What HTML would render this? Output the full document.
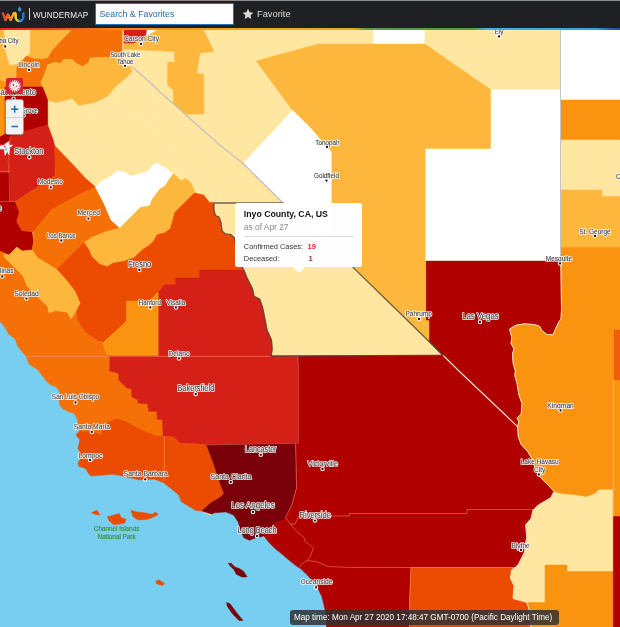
<!DOCTYPE html>
<html><head><meta charset="utf-8"><title>WunderMap</title>
<style>
html,body{margin:0;padding:0;background:#fff;}
#pop,#bar,#wm,#sb,#fav{will-change:transform,opacity;opacity:0.999}
body{width:620px;height:627px;overflow:hidden;position:relative;font-family:"Liberation Sans",sans-serif;}
#hdr{position:absolute;left:0;top:0;width:620px;height:27.8px;background:#1f2023;border-top:1px solid #8a8a8c;box-sizing:border-box;z-index:5}
#rb{position:absolute;left:0;top:27.8px;width:620px;height:2.1px;z-index:5;background:linear-gradient(90deg,#e4262c 0%,#e9452a 8%,#f58220 18%,#f7a21f 40%,#e8a82a 57%,#5a9a48 59%,#55994a 76%,#39b4e6 79%,#2aa9e0 96%,#1f5fb0 98.5%,#1f4fa0 100%)}
#wm{position:absolute;left:33px;top:9.5px;color:#f0f0f0;font-size:8.2px;letter-spacing:0.08px;line-height:11px;z-index:6}
#dv{position:absolute;left:29px;top:8px;width:1px;height:12px;background:#cfcfcf;z-index:6}
#sb{position:absolute;left:95px;top:3px;width:139px;height:22px;box-sizing:border-box;border:1.5px solid #1b78bd;background:#fff;z-index:6;border-radius:1px}
#sb span{position:absolute;left:3.5px;top:4.9px;font-size:8.8px;color:#1d6fae;line-height:11px;white-space:nowrap}
#fav{position:absolute;left:257px;top:8.9px;font-size:9.3px;color:#dcdcdc;line-height:11px;z-index:6}
#pop{position:absolute;left:234.8px;top:203px;width:127px;height:64px;background:#fff;border-radius:3px;z-index:4}
#pop .t{position:absolute;left:8.8px;top:6.2px;font-weight:bold;font-size:8.72px;color:#111;white-space:nowrap;line-height:11px}
#pop .s{position:absolute;left:8.8px;top:18.6px;font-size:8.4px;color:#8a8a8a;white-space:nowrap;line-height:10px}
#pop .hr{position:absolute;left:8.6px;top:32.5px;width:110px;height:1px;background:#dcdcdc}
#pop .r{position:absolute;left:8.8px;font-size:7.42px;color:#333;white-space:nowrap;line-height:9px}
#pop b{position:absolute;font-size:7.6px;line-height:9px}
#tip{position:absolute;left:292.7px;top:266.5px;width:0;height:0;border-left:6px solid transparent;border-right:6px solid transparent;border-top:6px solid #fff;z-index:4}
#cv{position:absolute;left:5.5px;top:77.5px;width:17.5px;height:16px;background:#d9232e;border-radius:2px;z-index:4}
#zm{position:absolute;left:5.5px;top:99.5px;width:17.5px;height:34.5px;background:#f3f3f3;border-radius:2px;z-index:4;box-shadow:0 0 0 0.7px #bdbdbd,0 1px 2px rgba(0,0,0,0.3)}
#zm .d{position:absolute;left:0;top:17px;width:100%;height:1px;background:#cfcfcf}
#bar{position:absolute;left:289.5px;top:610px;width:268.5px;height:14.5px;background:rgba(50,50,50,0.86);z-index:4;border-radius:3px}
#bar span{position:absolute;left:3.9px;top:2.5px;font-size:8.17px;color:#fff;white-space:nowrap;line-height:10px}
</style></head><body>
<svg width="620" height="627" viewBox="0 0 620 627" style="position:absolute;left:0;top:0;will-change:transform">
<rect x="0" y="29" width="620" height="598" fill="#ffe6a1"/>
<polygon points="0.0,29.0 31.0,29.0 31.0,70.0 17.0,70.0 17.0,88.0 0.0,88.0" fill="#feb73d" stroke="#feb73d" stroke-width="0.5" stroke-linejoin="round"/>
<polygon points="3.9,29.0 30.3,29.0 30.3,53.4 25.8,56.6 16.8,64.0 9.7,65.0 6.0,52.0" fill="#ffe6a1" stroke="#ffe6a1" stroke-width="0.5" stroke-linejoin="round"/>
<polygon points="30.3,29.0 73.0,29.0 69.0,33.0 61.0,41.0 52.0,50.8 48.0,58.0 42.6,59.2 33.5,58.8 29.7,56.6 30.3,53.4" fill="#feb73d" stroke="#feb73d" stroke-width="0.5" stroke-linejoin="round"/>
<polygon points="72.0,29.0 122.4,29.0 122.4,56.6 90.3,57.9 88.4,62.7 82.6,66.6 76.8,63.7 72.0,59.4 64.2,59.4 60.3,63.2 54.5,62.3 47.7,64.7 44.8,73.4 41.0,82.0 42.6,87.0 16.8,87.0 16.8,67.6 26.5,56.0 33.5,58.8 42.6,59.2 48.0,58.0 52.0,50.8 61.0,41.0 69.0,33.0" fill="#f57006" stroke="#f57006" stroke-width="0.5" stroke-linejoin="round"/>
<polygon points="42.6,87.0 41.0,82.0 44.8,73.4 47.7,64.7 54.5,62.3 60.3,63.2 64.2,59.4 72.0,59.4 76.8,63.7 82.6,66.6 88.4,62.7 90.3,57.9 122.4,56.6 125.5,65.3 130.3,67.0 132.0,71.8 125.5,78.2 115.8,86.3 107.7,96.0 94.8,102.4 86.0,104.0 78.7,105.6 72.3,98.4 56.0,102.4 49.7,100.8 46.5,97.6" fill="#feb73d" stroke="#feb73d" stroke-width="0.5" stroke-linejoin="round"/>
<polygon points="0.0,80.5 6.0,82.0 6.0,134.0 0.0,137.0" fill="#fa9410" stroke="#fa9410" stroke-width="0.5" stroke-linejoin="round"/>
<polygon points="5.0,87.0 42.6,87.0 47.7,100.0 47.7,125.0 23.0,132.0 11.6,136.0 10.8,137.5 9.5,140.5 6.5,142.8 3.0,144.3 0.0,145.0 0.0,137.0 5.0,134.0" fill="#b00000" stroke="#b00000" stroke-width="0.5" stroke-linejoin="round"/>
<polygon points="0.0,144.0 9.7,144.0 9.7,173.0 0.0,173.0" fill="#d42016" stroke="#d42016" stroke-width="0.5" stroke-linejoin="round"/>
<polygon points="9.7,136.0 23.0,132.0 47.7,125.0 53.0,139.4 54.8,145.8 55.2,175.5 15.5,201.5 9.7,201.5" fill="#d42016" stroke="#d42016" stroke-width="0.5" stroke-linejoin="round"/>
<polygon points="0.0,173.0 9.7,173.0 9.7,201.5 15.5,201.5 19.4,212.4 16.8,221.5 22.0,230.5 32.0,231.8 33.5,242.0 32.0,250.0 22.0,251.0 16.8,247.0 9.0,255.0 4.0,254.0 0.0,251.0" fill="#b00000" stroke="#b00000" stroke-width="0.5" stroke-linejoin="round"/>
<polygon points="54.8,145.8 72.3,163.9 85.2,178.0 95.5,187.0 80.0,194.4 51.6,209.8 33.5,231.8 32.0,231.8 22.0,230.5 16.8,221.5 19.4,212.4 15.5,201.5 55.2,175.5" fill="#ec4c02" stroke="#ec4c02" stroke-width="0.5" stroke-linejoin="round"/>
<polygon points="95.5,187.0 104.5,204.7 111.0,220.0 120.0,228.0 105.8,231.8 93.0,237.0 84.0,242.5 56.8,269.4 37.4,257.7 32.0,250.0 33.5,242.0 33.5,231.8 51.6,209.8 80.0,194.4" fill="#f57006" stroke="#f57006" stroke-width="0.5" stroke-linejoin="round"/>
<polygon points="95.5,187.0 100.6,182.0 109.7,176.8 117.4,171.0 124.0,172.0 131.6,176.0 147.0,172.0 153.5,164.5 156.5,163.0 166.0,168.3 173.0,174.0 164.5,186.5 160.0,189.0 152.0,199.5 149.7,206.0 140.6,207.3 120.0,228.0 111.0,220.0 104.5,204.7" fill="#ffffff" stroke="#ffffff" stroke-width="0.5" stroke-linejoin="round"/>
<polygon points="120.0,228.0 140.6,207.3 149.7,206.0 152.0,199.5 160.0,189.0 164.5,186.5 173.0,174.0 174.7,174.8 181.0,180.6 185.6,178.5 190.6,182.0 194.3,190.0 194.3,193.0 174.7,212.6 172.5,221.0 170.3,228.7 164.5,233.0 157.3,234.5 153.0,241.8 150.0,244.7 142.0,250.0 134.0,257.7 122.6,261.6 113.5,263.0 107.0,266.8 99.4,264.0 91.6,256.5 89.0,250.0 84.0,242.5 93.0,237.0 105.8,231.8" fill="#feb73d" stroke="#feb73d" stroke-width="0.5" stroke-linejoin="round"/>
<polygon points="195.0,193.0 203.7,195.0 209.5,202.4 213.9,202.4 213.9,209.7 215.3,215.5 219.0,217.0 221.0,222.7 221.9,230.0 222.6,231.6 225.5,233.9 231.0,234.7 234.3,237.8 237.0,250.0 240.0,264.0 243.9,270.0 199.4,270.0 199.4,278.0 175.4,278.0 175.4,284.6 164.5,284.6 158.0,292.6 149.7,301.0 126.5,301.0 126.5,322.0 103.0,342.6 96.8,340.6 85.5,332.6 77.4,321.0 76.0,311.0 80.0,303.0 74.8,291.0 67.0,281.0 56.8,269.4 84.0,242.5 89.0,250.0 91.6,256.5 99.4,264.0 107.0,266.8 113.5,263.0 122.6,261.6 134.0,257.7 142.0,250.0 150.0,244.7 153.0,241.8 157.3,234.5 164.5,233.0 170.3,228.7 172.5,221.0 174.7,212.6 194.3,193.0" fill="#ec4c02" stroke="#ec4c02" stroke-width="0.5" stroke-linejoin="round"/>
<polygon points="0.0,251.0 9.0,255.0 3.9,256.5 14.0,266.8 23.0,275.8 27.0,286.0 37.4,296.5 47.7,306.8 49.0,313.0 55.5,310.6 67.0,312.0 71.0,319.0 76.0,311.0 77.4,321.0 85.5,332.6 96.8,340.6 103.0,343.0 107.0,356.0 109.7,356.0 109.7,371.0 118.7,373.5 118.7,380.0 126.5,387.7 131.6,389.0 131.6,396.8 138.0,400.0 138.0,403.0 147.7,404.0 148.5,411.3 156.6,411.3 157.4,419.4 162.3,419.4 163.0,436.3 155.8,435.5 146.0,432.0 136.5,427.4 125.8,421.3 116.0,418.4 102.6,425.0 101.6,434.8 92.0,432.0 78.4,431.0 50.0,431.0 0.0,431.0" fill="#f57006" stroke="#f57006" stroke-width="0.5" stroke-linejoin="round"/>
<polygon points="3.9,254.0 9.0,255.0 16.8,247.0 22.0,251.0 32.0,250.0 37.4,257.7 56.8,269.4 67.0,281.0 74.8,291.0 80.0,303.0 76.0,311.0 71.0,319.0 67.0,312.0 55.5,310.6 49.0,313.0 47.7,306.8 37.4,296.5 27.0,286.0 23.0,275.8 14.0,266.8 3.9,256.5" fill="#feb73d" stroke="#feb73d" stroke-width="0.5" stroke-linejoin="round"/>
<polygon points="126.5,301.0 149.7,301.0 157.4,292.6 158.7,292.6 158.7,356.0 107.0,356.0 103.0,343.0 126.5,321.0" fill="#fa9410" stroke="#fa9410" stroke-width="0.5" stroke-linejoin="round"/>
<polygon points="243.9,270.0 246.8,277.4 252.6,289.0 254.0,296.3 259.8,299.2 262.7,308.0 265.6,322.4 267.0,330.0 271.5,340.0 272.2,349.0 271.2,356.0 158.7,356.0 158.7,292.6 158.0,292.6 164.5,284.6 175.4,284.6 175.4,278.0 199.4,278.0 199.4,270.0" fill="#d42016" stroke="#d42016" stroke-width="0.5" stroke-linejoin="round"/>
<polygon points="107.0,356.0 297.6,356.0 297.6,443.2 206.6,445.0 197.7,443.9 180.0,443.5 173.5,437.0 163.0,436.3 162.3,419.4 157.4,419.4 156.6,411.3 148.5,411.3 147.7,404.0 138.0,403.0 138.0,400.0 131.6,396.8 131.6,389.0 126.5,387.7 118.7,380.0 118.7,373.5 109.7,371.0 109.7,356.0" fill="#d42016" stroke="#d42016" stroke-width="0.5" stroke-linejoin="round"/>
<polygon points="60.0,431.0 78.4,431.0 92.0,432.0 101.6,434.8 102.6,425.0 116.0,418.4 125.8,421.3 136.5,427.4 146.0,432.0 155.8,435.5 163.0,436.3 173.5,437.0 180.0,443.5 197.7,443.9 206.6,445.0 213.9,464.5 220.3,483.9 224.0,493.5 220.0,497.4 210.5,503.0 201.8,511.0 190.0,525.0 60.0,525.0" fill="#ec4c02" stroke="#ec4c02" stroke-width="0.5" stroke-linejoin="round"/>
<polygon points="206.6,445.0 295.6,443.2 296.6,487.7 291.8,505.0 287.0,516.0 284.2,519.8 274.0,523.4 268.2,530.6 263.9,536.5 258.0,548.0 235.0,548.0 230.0,520.0 201.8,511.0 210.5,503.0 220.0,497.4 224.0,493.5 220.3,483.9 213.9,464.5" fill="#7a000a" stroke="#7a000a" stroke-width="0.5" stroke-linejoin="round"/>
<polygon points="297.6,356.0 442.0,355.0 428.0,340.5 428.0,323.0 425.7,323.0 425.7,260.5 560.8,260.5 561.5,310.0 561.0,318.7 558.2,323.0 553.0,334.7 547.3,334.7 542.3,331.0 539.4,326.0 533.5,324.5 524.8,323.8 516.0,325.2 509.6,329.0 511.8,337.6 511.0,343.4 514.0,349.0 512.5,353.5 513.2,363.7 515.4,371.0 514.7,375.3 516.9,382.6 518.3,391.3 519.0,395.0 522.0,403.7 521.2,413.9 516.9,418.2 519.0,421.0 517.6,427.0 518.3,437.0 521.2,444.4 527.7,451.6 532.0,458.9 535.0,467.6 539.4,476.3 546.6,483.5 554.0,491.3 550.8,497.6 538.2,505.0 533.0,510.0 530.9,518.6 525.6,524.8 526.7,537.4 525.8,541.8 524.5,552.0 518.0,565.0 515.0,567.5 411.0,567.5 409.7,598.6 409.7,627.0 250.0,627.0 258.0,548.0 263.9,536.5 268.2,530.6 274.0,523.4 284.2,519.8 287.0,516.0 291.8,505.0 296.6,487.7 295.6,443.2 297.6,443.2" fill="#b00000" stroke="#b00000" stroke-width="0.5" stroke-linejoin="round"/>
<polygon points="411.0,567.5 515.0,567.5 511.6,570.0 510.3,578.0 514.0,585.7 513.0,598.6 522.0,601.0 527.0,602.5 529.7,611.5 531.0,627.0 409.7,627.0 409.7,598.6" fill="#ec4c02" stroke="#ec4c02" stroke-width="0.5" stroke-linejoin="round"/>
<polygon points="560.8,247.0 620.0,247.0 620.0,489.2 612.7,489.2 599.0,489.2 594.8,493.4 586.5,496.5 573.9,494.4 561.3,493.4 554.0,491.3 546.6,483.5 539.4,476.3 535.0,467.6 532.0,458.9 527.7,451.6 521.2,444.4 518.3,437.0 517.6,427.0 519.0,421.0 516.9,418.2 521.2,413.9 522.0,403.7 519.0,395.0 518.3,391.3 516.9,382.6 514.7,375.3 515.4,371.0 513.2,363.7 512.5,353.5 514.0,349.0 511.0,343.4 511.8,337.6 509.6,329.0 516.0,325.2 524.8,323.8 533.5,324.5 539.4,326.0 542.3,331.0 547.3,334.7 553.0,334.7 558.2,323.0 561.0,318.7 561.5,310.0 560.8,260.5" fill="#fa9410" stroke="#fa9410" stroke-width="0.5" stroke-linejoin="round"/>
<polygon points="527.0,602.5 545.0,602.5 545.0,565.0 567.0,565.0 567.0,571.5 613.5,571.5 613.5,627.0 531.0,627.0 529.7,611.5" fill="#fa9410" stroke="#fa9410" stroke-width="0.5" stroke-linejoin="round"/>
<polygon points="613.0,489.0 620.0,489.0 620.0,516.5 613.0,516.5" fill="#fa9410" stroke="#fa9410" stroke-width="0.5" stroke-linejoin="round"/>
<polygon points="613.3,516.5 620.0,516.5 620.0,627.0 613.3,627.0" fill="#b00000" stroke="#b00000" stroke-width="0.5" stroke-linejoin="round"/>
<polygon points="614.0,330.0 620.0,330.0 620.0,380.0 614.0,380.0" fill="#f25c0c" stroke="#f25c0c" stroke-width="0.5" stroke-linejoin="round"/>
<polygon points="560.5,29.0 620.0,29.0 620.0,100.0 560.5,100.0" fill="#ffffff" stroke="#ffffff" stroke-width="0.5" stroke-linejoin="round"/>
<polygon points="560.5,100.0 620.0,100.0 620.0,139.5 560.5,139.5" fill="#fa9410" stroke="#fa9410" stroke-width="0.5" stroke-linejoin="round"/>
<polygon points="560.5,190.0 602.0,190.0 602.0,196.5 620.0,196.5 620.0,247.0 560.5,247.0" fill="#feb73d" stroke="#feb73d" stroke-width="0.5" stroke-linejoin="round"/>
<polygon points="373.5,29.0 424.4,29.0 424.4,44.0 373.5,44.0" fill="#ffffff" stroke="#ffffff" stroke-width="0.5" stroke-linejoin="round"/>
<polygon points="256.3,61.0 300.0,49.0 318.0,44.0 425.0,44.0 460.0,68.4 491.0,89.8 491.0,149.0 425.7,149.0 425.7,320.6 429.0,320.6 429.0,341.5 396.8,310.0 353.0,267.4 331.3,247.0 331.3,152.0 310.0,127.5 292.6,110.3" fill="#feb73d" stroke="#feb73d" stroke-width="0.5" stroke-linejoin="round"/>
<polygon points="491.0,89.8 560.5,89.8 560.5,260.5 425.7,260.5 425.7,149.0 491.0,149.0" fill="#ffffff" stroke="#ffffff" stroke-width="0.5" stroke-linejoin="round"/>
<polygon points="292.6,110.3 310.0,127.5 331.3,152.0 331.3,247.0 283.0,203.0 243.2,163.5" fill="#ffffff" stroke="#ffffff" stroke-width="0.5" stroke-linejoin="round"/>
<polygon points="124.0,43.0 133.5,43.0 138.7,40.3 146.0,34.5 146.5,35.7 158.0,29.0 203.0,29.0 214.0,51.6 200.0,53.0 196.5,73.5 203.7,74.0 203.9,114.0 186.0,114.0 173.4,103.4 173.4,90.0 167.5,85.0 167.5,62.0 174.5,62.0 174.5,51.6 160.0,50.8 124.0,49.0" fill="#feb73d" stroke="#feb73d" stroke-width="0.5" stroke-linejoin="round"/>
<polygon points="146.5,29.0 158.0,29.0 146.5,35.7" fill="#ffffff" stroke="#ffffff" stroke-width="0.5" stroke-linejoin="round"/>
<polygon points="124.0,29.0 146.5,29.0 146.0,34.5 138.7,40.3 133.5,43.0 124.0,43.0" fill="#d42016" stroke="#d42016" stroke-width="0.5" stroke-linejoin="round"/>
<polygon points="0.0,322.0 4.8,327.7 8.0,334.0 14.5,339.0 17.7,347.0 25.8,356.8 29.0,364.8 37.0,369.7 43.5,377.7 44.8,380.0 49.7,384.8 56.5,387.7 59.4,392.6 58.4,399.4 59.4,405.2 62.3,409.0 68.0,412.0 73.9,413.9 76.8,418.7 77.8,425.5 78.7,431.3 75.8,434.5 76.0,436.0 79.4,439.7 77.4,448.4 79.4,452.3 80.3,458.0 77.4,463.0 78.4,466.8 85.2,468.7 88.0,473.5 91.0,476.5 100.7,475.7 112.3,474.7 120.0,476.0 128.7,478.0 138.9,480.3 154.8,479.8 163.5,483.2 170.8,489.0 178.0,494.8 181.0,502.0 188.2,506.5 195.5,510.8 201.3,511.5 210.2,515.4 214.5,513.2 226.0,512.5 233.4,515.4 237.7,522.0 240.6,532.0 243.5,538.0 249.4,540.8 255.2,538.6 263.9,536.5 268.2,542.3 275.5,549.5 281.3,553.9 285.5,557.7 295.0,565.5 301.0,569.4 308.7,577.0 316.5,586.8 321.3,596.5 324.2,608.0 326.0,617.0 326.0,627.0 0.0,627.0" fill="#78cef1" stroke="#78cef1" stroke-width="0.5" stroke-linejoin="round"/>
<polygon points="91.3,512.7 97.0,510.3 100.0,515.0 95.3,514.4" fill="#ec4c02" stroke="#ec4c02" stroke-width="0.5" stroke-linejoin="round"/>
<polygon points="107.4,516.8 119.5,513.5 121.0,517.6 126.0,519.2 124.4,523.2 113.9,524.8 109.0,520.8" fill="#ec4c02" stroke="#ec4c02" stroke-width="0.5" stroke-linejoin="round"/>
<polygon points="130.8,510.3 136.5,512.0 144.5,512.7 152.6,514.4 155.0,512.0 158.2,514.4 154.2,516.8 147.7,519.2 138.0,520.0 133.2,516.8" fill="#ec4c02" stroke="#ec4c02" stroke-width="0.5" stroke-linejoin="round"/>
<polygon points="155.8,581.3 159.0,579.7 164.7,583.7 162.3,585.6 156.6,583.7" fill="#ec4c02" stroke="#ec4c02" stroke-width="0.5" stroke-linejoin="round"/>
<polygon points="228.3,563.3 231.2,563.3 234.8,567.0 239.2,568.4 243.5,571.3 247.2,577.0 242.0,577.0 236.3,574.2 234.0,569.8 229.8,565.5" fill="#7a000a" stroke="#7a000a" stroke-width="0.5" stroke-linejoin="round"/>
<polygon points="226.6,602.5 230.0,603.8 237.7,614.0 243.0,620.5 239.0,620.5 232.6,614.0 227.4,606.4" fill="#7a000a" stroke="#7a000a" stroke-width="0.5" stroke-linejoin="round"/>
<polyline points="131.6,66.3 150.0,82.5 160.0,92.0 220.0,145.2 243.2,163.5 283.0,203.0" fill="none" stroke="#c4bcc0" stroke-width="1.30" stroke-opacity="0.95" stroke-linejoin="round"/>
<polyline points="560.5,29.0 560.5,260.5" fill="none" stroke="#c4c4c4" stroke-width="1.00" stroke-opacity="1.00" stroke-linejoin="round"/>
<polyline points="26.0,356.5 107.0,356.5" fill="none" stroke="#ffb59a" stroke-width="0.60" stroke-opacity="0.70" stroke-linejoin="round"/>
<polyline points="107.0,356.3 271.0,356.3" fill="none" stroke="#ffb59a" stroke-width="0.60" stroke-opacity="0.70" stroke-linejoin="round"/>
<polyline points="297.6,356.0 298.3,366.0 298.3,443.2" fill="none" stroke="#ffb59a" stroke-width="0.60" stroke-opacity="0.70" stroke-linejoin="round"/>
<polyline points="164.2,436.3 164.2,481.5" fill="none" stroke="#ffb59a" stroke-width="0.60" stroke-opacity="0.70" stroke-linejoin="round"/>
<polyline points="206.6,445.0 297.6,443.2" fill="none" stroke="#ffb59a" stroke-width="0.60" stroke-opacity="0.50" stroke-linejoin="round"/>
<polyline points="295.6,443.2 296.6,487.7 291.8,505.0 285.5,517.0" fill="none" stroke="#ffb59a" stroke-width="0.60" stroke-opacity="0.70" stroke-linejoin="round"/>
<polyline points="285.5,517.0 290.0,524.0 295.0,524.0 299.0,516.0 349.4,516.0 349.4,513.5 467.0,513.5 467.0,509.6 533.0,509.6" fill="none" stroke="#ffb59a" stroke-width="0.60" stroke-opacity="0.70" stroke-linejoin="round"/>
<polyline points="290.0,524.0 297.0,531.6 304.8,538.4 304.8,541.0 313.5,548.0 309.7,557.7 306.8,560.6 301.0,564.5 300.0,567.4" fill="none" stroke="#ffb59a" stroke-width="0.60" stroke-opacity="0.70" stroke-linejoin="round"/>
<polyline points="306.8,560.6 316.5,561.6 328.0,566.5 347.4,567.4 411.0,567.5" fill="none" stroke="#ffb59a" stroke-width="0.60" stroke-opacity="0.70" stroke-linejoin="round"/>
<polyline points="411.0,567.5 515.0,567.5" fill="none" stroke="#ffb59a" stroke-width="0.60" stroke-opacity="0.70" stroke-linejoin="round"/>
<polyline points="411.0,567.5 409.7,598.6 409.7,627.0" fill="none" stroke="#ffb59a" stroke-width="0.60" stroke-opacity="0.70" stroke-linejoin="round"/>
<polyline points="0.0,201.4 16.0,201.4" fill="none" stroke="#ffb59a" stroke-width="0.60" stroke-opacity="0.60" stroke-linejoin="round"/>
<polyline points="0.0,171.5 9.6,171.5" fill="none" stroke="#ffb59a" stroke-width="0.60" stroke-opacity="0.50" stroke-linejoin="round"/>
<polyline points="10.5,137.0 8.2,160.0 9.0,175.0 9.7,201.5" fill="none" stroke="#ffb59a" stroke-width="0.60" stroke-opacity="0.45" stroke-linejoin="round"/>
<polyline points="560.8,260.5 561.5,310.0 561.0,318.7 558.2,323.0 553.0,334.7 547.3,334.7 542.3,331.0 539.4,326.0 533.5,324.5 524.8,323.8 516.0,325.2 509.6,329.0 511.8,337.6 511.0,343.4 514.0,349.0 512.5,353.5 513.2,363.7 515.4,371.0 514.7,375.3 516.9,382.6 518.3,391.3 519.0,395.0 522.0,403.7 521.2,413.9 516.9,418.2 519.0,421.0 517.6,427.0 518.3,437.0 521.2,444.4 527.7,451.6 532.0,458.9 535.0,467.6 539.4,476.3 546.6,483.5 554.0,491.3 550.8,497.6 538.2,505.0 533.0,510.0 530.9,518.6 525.6,524.8 526.7,537.4 525.8,541.8 524.5,552.0 518.0,565.0 511.6,570.0 510.3,578.0 514.0,585.7 513.0,598.6 522.0,601.0 527.0,602.5 529.7,611.5 531.0,627.0" fill="none" stroke="#ffeede" stroke-width="1.00" stroke-opacity="0.90" stroke-linejoin="round"/>
<polyline points="443.0,355.3 460.0,372.0 517.5,426.5" fill="none" stroke="#ffe4da" stroke-width="1.20" stroke-opacity="0.95" stroke-linejoin="round"/>
<polyline points="613.3,380.0 613.3,516.0" fill="none" stroke="#ffe0b0" stroke-width="0.60" stroke-opacity="0.80" stroke-linejoin="round"/>
<polyline points="53.0,135.0 78.7,116.8 117.4,106.5 118.7,88.4" fill="none" stroke="#fff0c4" stroke-width="0.70" stroke-opacity="0.50" stroke-linejoin="round"/>
<polyline points="83.9,160.6 104.5,124.5 117.4,111.6 127.7,115.5 145.8,115.5 151.0,124.5" fill="none" stroke="#fff0c4" stroke-width="0.70" stroke-opacity="0.50" stroke-linejoin="round"/>
<polyline points="118.7,88.4 153.5,88.4 156.0,104.0 151.0,122.0 153.5,134.8 169.0,145.0 174.0,158.0 182.0,168.4 179.4,176.0" fill="none" stroke="#fff0c4" stroke-width="0.70" stroke-opacity="0.50" stroke-linejoin="round"/>
<polyline points="122.4,29.0 122.4,66.0" fill="none" stroke="#fff0c4" stroke-width="0.70" stroke-opacity="0.50" stroke-linejoin="round"/>
<polyline points="213.9,203.0 283.0,203.0 331.3,247.0 353.0,267.4 386.5,300.0 396.8,310.0 429.0,341.5 443.0,355.3 271.2,356.0 272.2,349.0 271.5,340.0 267.0,330.0 265.6,322.4 262.7,308.0 259.8,299.2 254.0,296.3 252.6,289.0 246.8,277.4 243.9,270.0 240.0,264.0 237.0,250.0 234.3,237.8 231.0,234.7 225.5,233.9 222.6,231.6 221.9,230.0 221.0,222.7 219.0,217.0 215.3,215.5 213.9,209.7 213.9,203.0" fill="none" stroke="#4f4540" stroke-width="1.30" stroke-opacity="0.82" stroke-linejoin="round"/>
<g font-family="Liberation Sans, sans-serif" text-anchor="middle" fill="#fff" stroke="#fff" stroke-width="1.70" stroke-linejoin="round" stroke-opacity="0.95">
<text transform="translate(141.5,41.2) scale(0.880,1)" font-size="7.64">Carson City</text>
<text transform="translate(125.2,56.7) scale(0.880,1)" font-size="6.78">South Lake</text>
<text transform="translate(125.2,63.9) scale(0.880,1)" font-size="6.78">Tahoe</text>
<text transform="translate(29.0,67.2) scale(0.880,1)" font-size="7.64">Lincoln</text>
<text transform="translate(28.8,154.1) scale(0.880,1)" font-size="8.55">Stockton</text>
<text transform="translate(50.3,183.5) scale(0.880,1)" font-size="7.41">Modesto</text>
<text transform="translate(88.7,215.1) scale(0.880,1)" font-size="7.64">Merced</text>
<text transform="translate(61.3,238.1) scale(0.880,1)" font-size="6.90">Los Banos</text>
<text transform="translate(26.5,295.9) scale(0.880,1)" font-size="7.64">Soledad</text>
<text transform="translate(139.6,266.6) scale(0.880,1)" font-size="8.55">Fresno</text>
<text transform="translate(175.8,304.7) scale(0.880,1)" font-size="7.41">Visalia</text>
<text transform="translate(149.8,305.1) scale(0.880,1)" font-size="7.07">Hanford</text>
<text transform="translate(179.0,356.2) scale(0.880,1)" font-size="7.64">Delano</text>
<text transform="translate(195.8,390.6) scale(0.880,1)" font-size="8.55">Bakersfield</text>
<text transform="translate(75.5,399.4) scale(0.880,1)" font-size="7.35">San Luis Obispo</text>
<text transform="translate(91.8,429.0) scale(0.880,1)" font-size="7.64">Santa Maria</text>
<text transform="translate(90.4,457.7) scale(0.880,1)" font-size="7.64">Lompoc</text>
<text transform="translate(145.7,476.3) scale(0.880,1)" font-size="7.81">Santa Barbara</text>
<text transform="translate(260.8,451.9) scale(0.880,1)" font-size="8.15">Lancaster</text>
<text transform="translate(231.0,478.9) scale(0.880,1)" font-size="8.09">Santa Clarita</text>
<text transform="translate(253.0,508.3) scale(0.880,1)" font-size="9.12">Los Angeles</text>
<text transform="translate(257.0,533.3) scale(0.880,1)" font-size="8.32">Long Beach</text>
<text transform="translate(322.7,465.9) scale(0.880,1)" font-size="8.09">Victorville</text>
<text transform="translate(315.2,517.9) scale(0.880,1)" font-size="8.55">Riverside</text>
<text transform="translate(316.5,584.1) scale(0.880,1)" font-size="7.64">Oceanside</text>
<text transform="translate(327.4,144.5) scale(0.880,1)" font-size="7.14">Tonopah</text>
<text transform="translate(326.5,177.8) scale(0.880,1)" font-size="7.14">Goldfield</text>
<text transform="translate(499.0,33.8) scale(0.880,1)" font-size="7.14">Ely</text>
<text transform="translate(595.0,233.7) scale(0.880,1)" font-size="7.39">St. George</text>
<text transform="translate(559.0,260.7) scale(0.880,1)" font-size="7.39">Mesquite</text>
<text transform="translate(418.7,315.7) scale(0.880,1)" font-size="7.39">Pahrump</text>
<text transform="translate(480.4,318.7) scale(0.880,1)" font-size="8.89">Las Vegas</text>
<text transform="translate(560.6,407.7) scale(0.880,1)" font-size="7.64">Kingman</text>
<text transform="translate(539.7,464.0) scale(0.880,1)" font-size="7.39">Lake Havasu</text>
<text transform="translate(539.7,472.0) scale(0.880,1)" font-size="7.39">City</text>
<text transform="translate(520.6,547.9) scale(0.880,1)" font-size="7.39">Blythe</text>
</g>
<g font-family="Liberation Sans, sans-serif" text-anchor="middle" fill="#404040" stroke="#404040" stroke-width="0.12" stroke-linejoin="round" stroke-opacity="1.00">
<text transform="translate(141.5,41.2) scale(0.880,1)" font-size="7.64">Carson City</text>
<text transform="translate(125.2,56.7) scale(0.880,1)" font-size="6.78">South Lake</text>
<text transform="translate(125.2,63.9) scale(0.880,1)" font-size="6.78">Tahoe</text>
<text transform="translate(29.0,67.2) scale(0.880,1)" font-size="7.64">Lincoln</text>
<text transform="translate(28.8,154.1) scale(0.880,1)" font-size="8.55">Stockton</text>
<text transform="translate(50.3,183.5) scale(0.880,1)" font-size="7.41">Modesto</text>
<text transform="translate(88.7,215.1) scale(0.880,1)" font-size="7.64">Merced</text>
<text transform="translate(61.3,238.1) scale(0.880,1)" font-size="6.90">Los Banos</text>
<text transform="translate(26.5,295.9) scale(0.880,1)" font-size="7.64">Soledad</text>
<text transform="translate(139.6,266.6) scale(0.880,1)" font-size="8.55">Fresno</text>
<text transform="translate(175.8,304.7) scale(0.880,1)" font-size="7.41">Visalia</text>
<text transform="translate(149.8,305.1) scale(0.880,1)" font-size="7.07">Hanford</text>
<text transform="translate(179.0,356.2) scale(0.880,1)" font-size="7.64">Delano</text>
<text transform="translate(195.8,390.6) scale(0.880,1)" font-size="8.55">Bakersfield</text>
<text transform="translate(75.5,399.4) scale(0.880,1)" font-size="7.35">San Luis Obispo</text>
<text transform="translate(91.8,429.0) scale(0.880,1)" font-size="7.64">Santa Maria</text>
<text transform="translate(90.4,457.7) scale(0.880,1)" font-size="7.64">Lompoc</text>
<text transform="translate(145.7,476.3) scale(0.880,1)" font-size="7.81">Santa Barbara</text>
<text transform="translate(260.8,451.9) scale(0.880,1)" font-size="8.15">Lancaster</text>
<text transform="translate(231.0,478.9) scale(0.880,1)" font-size="8.09">Santa Clarita</text>
<text transform="translate(253.0,508.3) scale(0.880,1)" font-size="9.12">Los Angeles</text>
<text transform="translate(257.0,533.3) scale(0.880,1)" font-size="8.32">Long Beach</text>
<text transform="translate(322.7,465.9) scale(0.880,1)" font-size="8.09">Victorville</text>
<text transform="translate(315.2,517.9) scale(0.880,1)" font-size="8.55">Riverside</text>
<text transform="translate(316.5,584.1) scale(0.880,1)" font-size="7.64">Oceanside</text>
<text transform="translate(327.4,144.5) scale(0.880,1)" font-size="7.14">Tonopah</text>
<text transform="translate(326.5,177.8) scale(0.880,1)" font-size="7.14">Goldfield</text>
<text transform="translate(499.0,33.8) scale(0.880,1)" font-size="7.14">Ely</text>
<text transform="translate(595.0,233.7) scale(0.880,1)" font-size="7.39">St. George</text>
<text transform="translate(559.0,260.7) scale(0.880,1)" font-size="7.39">Mesquite</text>
<text transform="translate(418.7,315.7) scale(0.880,1)" font-size="7.39">Pahrump</text>
<text transform="translate(480.4,318.7) scale(0.880,1)" font-size="8.89">Las Vegas</text>
<text transform="translate(560.6,407.7) scale(0.880,1)" font-size="7.64">Kingman</text>
<text transform="translate(539.7,464.0) scale(0.880,1)" font-size="7.39">Lake Havasu</text>
<text transform="translate(539.7,472.0) scale(0.880,1)" font-size="7.39">City</text>
<text transform="translate(520.6,547.9) scale(0.880,1)" font-size="7.39">Blythe</text>
</g>
<circle cx="141.0" cy="44.0" r="2.25" fill="#fff" fill-opacity="0.95"/><circle cx="141.0" cy="44.0" r="1.15" fill="#1a1010"/>
<circle cx="125.0" cy="65.8" r="2.25" fill="#fff" fill-opacity="0.95"/><circle cx="125.0" cy="65.8" r="1.15" fill="#1a1010"/>
<circle cx="29.0" cy="70.0" r="2.25" fill="#fff" fill-opacity="0.95"/><circle cx="29.0" cy="70.0" r="1.15" fill="#1a1010"/>
<circle cx="29.3" cy="157.2" r="2.25" fill="#fff" fill-opacity="0.95"/><circle cx="29.3" cy="157.2" r="1.15" fill="#1a1010"/>
<circle cx="50.7" cy="187.3" r="2.25" fill="#fff" fill-opacity="0.95"/><circle cx="50.7" cy="187.3" r="1.15" fill="#1a1010"/>
<circle cx="88.4" cy="218.6" r="2.25" fill="#fff" fill-opacity="0.95"/><circle cx="88.4" cy="218.6" r="1.15" fill="#1a1010"/>
<circle cx="61.3" cy="240.5" r="2.25" fill="#fff" fill-opacity="0.95"/><circle cx="61.3" cy="240.5" r="1.15" fill="#1a1010"/>
<circle cx="26.5" cy="298.6" r="2.25" fill="#fff" fill-opacity="0.95"/><circle cx="26.5" cy="298.6" r="1.15" fill="#1a1010"/>
<circle cx="139.4" cy="270.0" r="2.25" fill="#fff" fill-opacity="0.95"/><circle cx="139.4" cy="270.0" r="1.15" fill="#1a1010"/>
<circle cx="176.0" cy="307.5" r="2.25" fill="#fff" fill-opacity="0.95"/><circle cx="176.0" cy="307.5" r="1.15" fill="#1a1010"/>
<circle cx="150.3" cy="307.4" r="2.25" fill="#fff" fill-opacity="0.95"/><circle cx="150.3" cy="307.4" r="1.15" fill="#1a1010"/>
<circle cx="179.0" cy="358.5" r="2.25" fill="#fff" fill-opacity="0.95"/><circle cx="179.0" cy="358.5" r="1.15" fill="#1a1010"/>
<circle cx="195.7" cy="394.0" r="2.25" fill="#fff" fill-opacity="0.95"/><circle cx="195.7" cy="394.0" r="1.15" fill="#1a1010"/>
<circle cx="75.5" cy="402.5" r="2.25" fill="#fff" fill-opacity="0.95"/><circle cx="75.5" cy="402.5" r="1.15" fill="#1a1010"/>
<circle cx="91.8" cy="432.0" r="2.25" fill="#fff" fill-opacity="0.95"/><circle cx="91.8" cy="432.0" r="1.15" fill="#1a1010"/>
<circle cx="90.0" cy="460.0" r="2.25" fill="#fff" fill-opacity="0.95"/><circle cx="90.0" cy="460.0" r="1.15" fill="#1a1010"/>
<circle cx="145.2" cy="479.4" r="2.25" fill="#fff" fill-opacity="0.95"/><circle cx="145.2" cy="479.4" r="1.15" fill="#1a1010"/>
<circle cx="260.8" cy="454.8" r="2.25" fill="#fff" fill-opacity="0.95"/><circle cx="260.8" cy="454.8" r="1.15" fill="#1a1010"/>
<circle cx="230.8" cy="482.0" r="2.25" fill="#fff" fill-opacity="0.95"/><circle cx="230.8" cy="482.0" r="1.15" fill="#1a1010"/>
<circle cx="253.0" cy="512.0" r="2.25" fill="#fff" fill-opacity="0.95"/><circle cx="253.0" cy="512.0" r="1.15" fill="#1a1010"/>
<circle cx="257.0" cy="536.0" r="2.25" fill="#fff" fill-opacity="0.95"/><circle cx="257.0" cy="536.0" r="1.15" fill="#1a1010"/>
<circle cx="322.5" cy="469.0" r="2.25" fill="#fff" fill-opacity="0.95"/><circle cx="322.5" cy="469.0" r="1.15" fill="#1a1010"/>
<circle cx="315.0" cy="520.6" r="2.25" fill="#fff" fill-opacity="0.95"/><circle cx="315.0" cy="520.6" r="1.15" fill="#1a1010"/>
<circle cx="316.0" cy="587.4" r="2.25" fill="#fff" fill-opacity="0.95"/><circle cx="316.0" cy="587.4" r="1.15" fill="#1a1010"/>
<circle cx="327.0" cy="147.0" r="2.25" fill="#fff" fill-opacity="0.95"/><circle cx="327.0" cy="147.0" r="1.15" fill="#1a1010"/>
<circle cx="326.5" cy="180.6" r="2.25" fill="#fff" fill-opacity="0.95"/><circle cx="326.5" cy="180.6" r="1.15" fill="#1a1010"/>
<circle cx="499.0" cy="36.5" r="2.25" fill="#fff" fill-opacity="0.95"/><circle cx="499.0" cy="36.5" r="1.15" fill="#1a1010"/>
<circle cx="595.0" cy="236.0" r="2.25" fill="#fff" fill-opacity="0.95"/><circle cx="595.0" cy="236.0" r="1.15" fill="#1a1010"/>
<circle cx="560.0" cy="263.5" r="2.25" fill="#fff" fill-opacity="0.95"/><circle cx="560.0" cy="263.5" r="1.15" fill="#1a1010"/>
<circle cx="419.0" cy="319.0" r="2.25" fill="#fff" fill-opacity="0.95"/><circle cx="419.0" cy="319.0" r="1.15" fill="#1a1010"/>
<circle cx="480.0" cy="322.0" r="2.25" fill="#fff" fill-opacity="0.95"/><circle cx="480.0" cy="322.0" r="1.15" fill="#1a1010"/>
<circle cx="560.6" cy="410.5" r="2.25" fill="#fff" fill-opacity="0.95"/><circle cx="560.6" cy="410.5" r="1.15" fill="#1a1010"/>
<circle cx="538.9" cy="474.5" r="2.25" fill="#fff" fill-opacity="0.95"/><circle cx="538.9" cy="474.5" r="1.15" fill="#1a1010"/>
<circle cx="521.0" cy="550.0" r="2.25" fill="#fff" fill-opacity="0.95"/><circle cx="521.0" cy="550.0" r="1.15" fill="#1a1010"/>
<g font-family="Liberation Sans, sans-serif" text-anchor="end" fill="#fff" stroke="#fff" stroke-width="1.70" stroke-linejoin="round" stroke-opacity="0.95">
<text transform="translate(18.5,43.3) scale(0.880,1)" font-size="7.07">Yuba City</text>
<text transform="translate(36.0,95.4) scale(0.880,1)" font-size="8.55">Sacramento</text>
<text transform="translate(38.0,112.6) scale(0.880,1)" font-size="7.07">Elk Grove</text>
<text transform="translate(13.5,273.3) scale(0.880,1)" font-size="7.41">Salinas</text>
<text transform="translate(1.6,210.7) scale(0.880,1)" font-size="8.55">San Jose</text>
</g>
<g font-family="Liberation Sans, sans-serif" text-anchor="end" fill="#404040" stroke="#404040" stroke-width="0.12" stroke-linejoin="round" stroke-opacity="1.00">
<text transform="translate(18.5,43.3) scale(0.880,1)" font-size="7.07">Yuba City</text>
<text transform="translate(36.0,95.4) scale(0.880,1)" font-size="8.55">Sacramento</text>
<text transform="translate(38.0,112.6) scale(0.880,1)" font-size="7.07">Elk Grove</text>
<text transform="translate(13.5,273.3) scale(0.880,1)" font-size="7.41">Salinas</text>
<text transform="translate(1.6,210.7) scale(0.880,1)" font-size="8.55">San Jose</text>
</g>
<g font-family="Liberation Sans, sans-serif" text-anchor="start" fill="#fff" stroke="#fff" stroke-width="1.70" stroke-linejoin="round" stroke-opacity="0.95">
<text transform="translate(616.0,179.3) scale(0.880,1)" font-size="6.84">Cedar City</text>
</g>
<g font-family="Liberation Sans, sans-serif" text-anchor="start" fill="#404040" stroke="#404040" stroke-width="0.12" stroke-linejoin="round" stroke-opacity="1.00">
<text transform="translate(616.0,179.3) scale(0.880,1)" font-size="6.84">Cedar City</text>
</g>
<circle cx="5.2" cy="46.5" r="2.25" fill="#fff" fill-opacity="0.95"/><circle cx="5.2" cy="46.5" r="1.15" fill="#1a1010"/>
<circle cx="13.6" cy="98.7" r="2.25" fill="#fff" fill-opacity="0.95"/><circle cx="13.6" cy="98.7" r="1.15" fill="#1a1010"/>
<circle cx="23.7" cy="115.6" r="2.25" fill="#fff" fill-opacity="0.95"/><circle cx="23.7" cy="115.6" r="1.15" fill="#1a1010"/>
<circle cx="2.3" cy="276.5" r="2.25" fill="#fff" fill-opacity="0.95"/><circle cx="2.3" cy="276.5" r="1.15" fill="#1a1010"/>
<g font-family="Liberation Sans, sans-serif" text-anchor="middle" fill="#3a8a2c" font-size="6.35" stroke="#3a8a2c" stroke-width="0.12">
<text x="116.6" y="531">Channel Islands</text><text x="116.6" y="539">National Park</text></g>
</svg>
<div id="hdr"></div><div id="rb"></div>
<svg style="position:absolute;left:0;top:0;z-index:7" width="30" height="27" viewBox="0 0 30 27">
<defs><linearGradient id="wg" gradientUnits="userSpaceOnUse" x1="2" x2="24" y1="0" y2="0"><stop offset="0" stop-color="#e8352c"/><stop offset="0.3" stop-color="#f4702a"/><stop offset="0.52" stop-color="#f9a61f"/><stop offset="0.66" stop-color="#fbd02a"/><stop offset="0.8" stop-color="#3aa0dc"/><stop offset="1" stop-color="#1f6fc4"/></linearGradient></defs>
<path d="M2.9 13.4 L5.5 20 L8 14.6 L10.6 20 L13.6 13.6 C14.4 12.6 15.6 12.8 15.6 14 V17 a3.9 3.9 0 0 0 7.8 0 V13.6" fill="none" stroke="url(#wg)" stroke-width="2.5" stroke-linecap="round" stroke-linejoin="round"/>
<path d="M19.7 6.6 c1.1 1.5 1.7 2.3 1.7 3.1 a1.7 1.7 0 0 1 -3.4 0 c0 -0.8 0.6 -1.6 1.7 -3.1z" fill="#2f9be0"/>
</svg>
<div id="dv"></div><div id="wm">WUNDERMAP</div>
<div id="sb"><span>Search &amp; Favorites</span></div>
<svg style="position:absolute;left:242px;top:7.5px;z-index:7" width="12" height="12" viewBox="0 0 24 24"><path fill="#dcdcdc" d="M12 1.5l3.2 6.9 7.5.9-5.6 5.1 1.5 7.4L12 18.1l-6.6 3.7 1.5-7.4L1.3 9.3l7.5-.9z"/></svg>
<div id="fav">Favorite</div>
<div id="pop"><div class="t">Inyo County, CA, US</div><div class="s">as of Apr 27</div><div class="hr"></div>
<div class="r" style="top:39px">Confirmed Cases:</div><b style="left:72.5px;top:39px;color:#e3242b">19</b>
<div class="r" style="top:50.5px">Deceased:</div><b style="left:73.5px;top:50.5px;color:#7b2a8a">1</b></div>
<div id="tip"></div>
<div id="cv"><svg width="17.5" height="16" viewBox="0 0 17.5 16"><g stroke="#fff" stroke-width="1.1" stroke-linecap="round">
<line x1="8.75" y1="2.4" x2="8.75" y2="13.6"/><line x1="3.15" y1="8" x2="14.35" y2="8"/><line x1="4.8" y1="4.05" x2="12.7" y2="11.95"/><line x1="12.7" y1="4.05" x2="4.8" y2="11.95"/>
<line x1="6.6" y1="2.9" x2="10.9" y2="13.1"/><line x1="10.9" y1="2.9" x2="6.6" y2="13.1"/><line x1="3.6" y1="5.9" x2="13.9" y2="10.1"/><line x1="13.9" y1="5.9" x2="3.6" y2="10.1"/></g>
<circle cx="8.75" cy="8" r="3.9" fill="#fff"/><circle cx="7.3" cy="7" r="0.9" fill="#d9232e"/><circle cx="10.3" cy="8.3" r="0.75" fill="#d9232e"/><circle cx="8.2" cy="9.9" r="0.6" fill="#d9232e"/></svg></div>
<div id="zm"><div class="d"></div><svg width="17.5" height="34.5" viewBox="0 0 17.5 34.5" style="position:absolute;left:0;top:0"><g stroke="#2c6fa6" stroke-width="1.6"><line x1="5.2" y1="9.2" x2="12.2" y2="9.2"/><line x1="8.7" y1="5.7" x2="8.7" y2="12.7"/><line x1="5.5" y1="26.5" x2="12" y2="26.5"/></g></svg></div>
<svg style="position:absolute;left:0;top:136px;z-index:4" width="24" height="24" viewBox="0 136 24 24"><polygon points="0,145.9 4.3,145.1 7.8,142.2 9.1,145.1 12.8,145.3 9.7,147.4 9.1,154.6 7.4,151.5 5,155.4 4.3,149 0,149" fill="#f1f4f7" stroke="#f1f4f7" stroke-width="0.6" stroke-linejoin="round"/><ellipse cx="5.9" cy="149" rx="1.6" ry="2.1" fill="#a8d8f0"/><circle cx="4.8" cy="146.6" r="0.8" fill="#c8333a"/></svg>
<div id="bar"><span>Map time: Mon Apr 27 2020 17:48:47 GMT-0700 (Pacific Daylight Time)</span></div>
</body></html>
